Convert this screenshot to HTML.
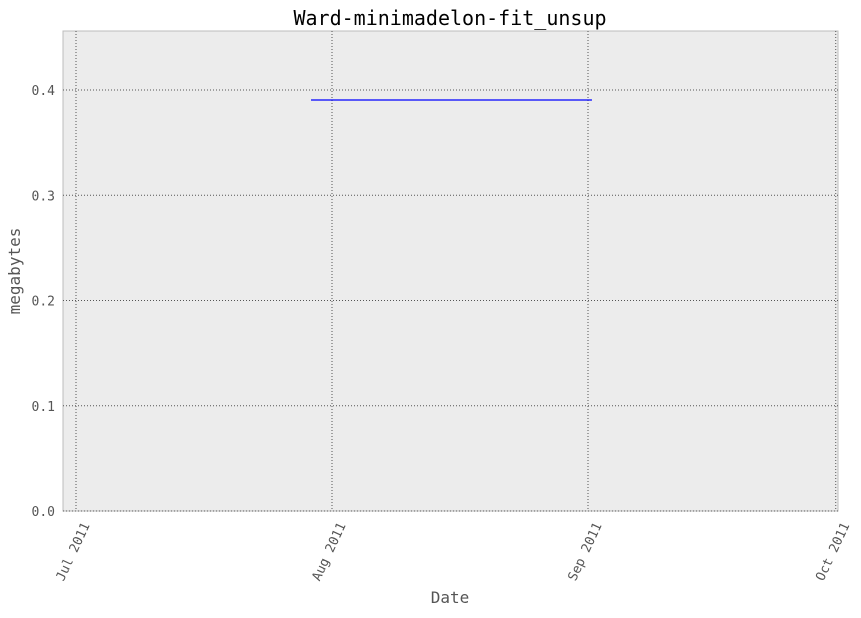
<!DOCTYPE html>
<html><head><meta charset="utf-8"><style>
body{margin:0;background:#fff;}
svg text{font-family:"DejaVu Sans Mono","Liberation Mono",monospace;}
</style></head><body>
<svg id="chart" width="861" height="613" xmlns="http://www.w3.org/2000/svg"></svg>
<script>
const dates=["2011-07-29T11:00:00Z","2011-09-01T11:30:00Z"];
const values=[0.3905,0.3905];
const yTicks=[0.0,0.1,0.2,0.3,0.4];
const yTickLabels=["0.0","0.1","0.2","0.3","0.4"];
const xTicks=["2011-07-01T00:00:00Z","2011-08-01T00:00:00Z","2011-09-01T00:00:00Z","2011-10-01T00:00:00Z"];
const xTickLabels=["Jul 2011","Aug 2011","Sep 2011","Oct 2011"];

const svg=document.getElementById('chart');
const NS="http://www.w3.org/2000/svg";
const L=63,R=838,T=31,B=511;
const t0=Date.parse("2011-07-01T00:00:00Z"),pxPerDay=256/31;
const xS=d=>76+(Date.parse(d)-t0)/86400000*pxPerDay;
const yS=v=>511-v*1052.5;
function mk(tag,attrs,parent){const e=document.createElementNS(NS,tag);for(const k in attrs)e.setAttribute(k,attrs[k]);(parent||svg).appendChild(e);return e;}

const bg=mk('rect',{x:L,y:T,width:R-L,height:B-T,fill:'#ececec',stroke:'#bcbcbc','stroke-width':1});



yTicks.forEach((v,i)=>{
  const y=yS(v);
  const g=mk('line',{x1:L,x2:R,y1:y,y2:y,stroke:'#555','stroke-width':1,'stroke-dasharray':'1,2'});
  
  
  const t=mk('text',{x:L-8,y:y+5,'text-anchor':'end','font-size':13,fill:'#555'});
  t.textContent=yTickLabels[i];
  
  
});
xTicks.forEach((d,i)=>{
  const x=xS(d);
  const g=mk('line',{x1:x,x2:x,y1:T,y2:B,stroke:'#555','stroke-width':1,'stroke-dasharray':'1,2'});
  
  
  const ax=x+14,ay=B+14;
  const t=mk('text',{x:ax,y:ay,'text-anchor':'end','font-size':13,fill:'#555',transform:`rotate(-65 ${ax} ${ay})`});
  t.textContent=xTickLabels[i];
  
  
});

const pts=dates.map((d,i)=>xS(d)+','+yS(values[i])).join(' ');
const line=mk('polyline',{points:pts,fill:'none',stroke:'#0000ff','stroke-width':1.2});



const title=mk('text',{x:450,y:25,'text-anchor':'middle','font-size':20,fill:'#000'});
title.textContent="Ward-minimadelon-fit_unsup";


const xl=mk('text',{x:450,y:603,'text-anchor':'middle','font-size':16,fill:'#555'});
xl.textContent="Date";


const yl=mk('text',{x:20,y:271,'text-anchor':'middle','font-size':16,fill:'#555',transform:'rotate(-90 20 271)'});
yl.textContent="megabytes";


</script>
</body></html>
